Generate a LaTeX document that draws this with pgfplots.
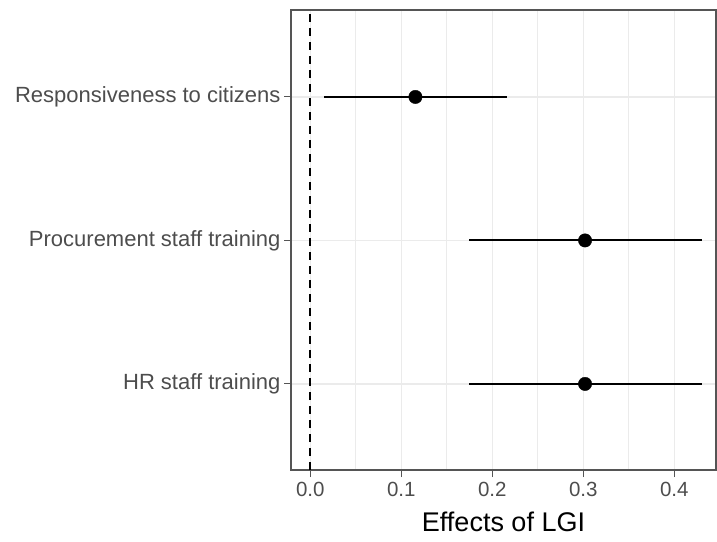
\documentclass[border=0pt]{standalone}
\usepackage{fontspec}
\setmainfont{Liberation Sans}
\usepackage{pgfplots}
\pgfplotsset{compat=1.18}
\definecolor{gridc}{HTML}{EBEBEB}
\definecolor{txt}{HTML}{4D4D4D}
\definecolor{bord}{HTML}{555555}
\begin{document}
\begin{tikzpicture}
\useasboundingbox (0,0) rectangle (717pt,541pt);
\begin{axis}[
 at={(291pt,71pt)}, anchor=south west,
 scale only axis, width=425pt, height=460pt,
 xmin=-0.0212, xmax=0.4458, ymin=0.4, ymax=3.606,
 xtick={0,0.1,0.2,0.3,0.4},
 minor xtick={0.05,0.15,0.25,0.35,0.45},
 ytick={1,2,3},
 yticklabels={HR staff training, Procurement staff training, Responsiveness to citizens},
 xticklabel style={/pgf/number format/fixed, /pgf/number format/fixed zerofill, /pgf/number format/precision=1, font=\fontsize{20.5}{24}\selectfont, text=txt},
 xticklabel shift=2pt,
 yticklabel style={font=\fontsize{22}{26}\selectfont, text=txt},
 /pgf/number format/assume math mode=true,
 tick pos=lower,
 tick align=outside, major tick length=7pt, minor tick length=0pt,
 tick style={bord, line width=1pt},
 axis line style={bord, line width=1.2pt},
 grid=both,
 major grid style={gridc, line width=1.3pt},
 minor grid style={gridc, line width=0.7pt},
 xlabel={Effects of LGI},
 xlabel style={font=\fontsize{27}{32}\selectfont, at={(axis description cs:0.5,0)}, anchor=base, yshift=-61.7pt, inner sep=0pt},
]
\addplot[black, dash pattern=on 8pt off 6pt, line width=1.6pt] coordinates {(0,0.4) (0,3.606)};
\addplot[black, line width=2pt, forget plot] coordinates {(0.0154,3) (0.2158,3)};
\addplot[black, line width=2pt, forget plot] coordinates {(0.1744,2) (0.4301,2)};
\addplot[black, line width=2pt, forget plot] coordinates {(0.1744,1) (0.4301,1)};
\addplot[only marks, mark=*, mark size=6.7pt, black] coordinates {(0.1155,3) (0.3019,2) (0.3019,1)};
\end{axis}
\end{tikzpicture}
\end{document}
